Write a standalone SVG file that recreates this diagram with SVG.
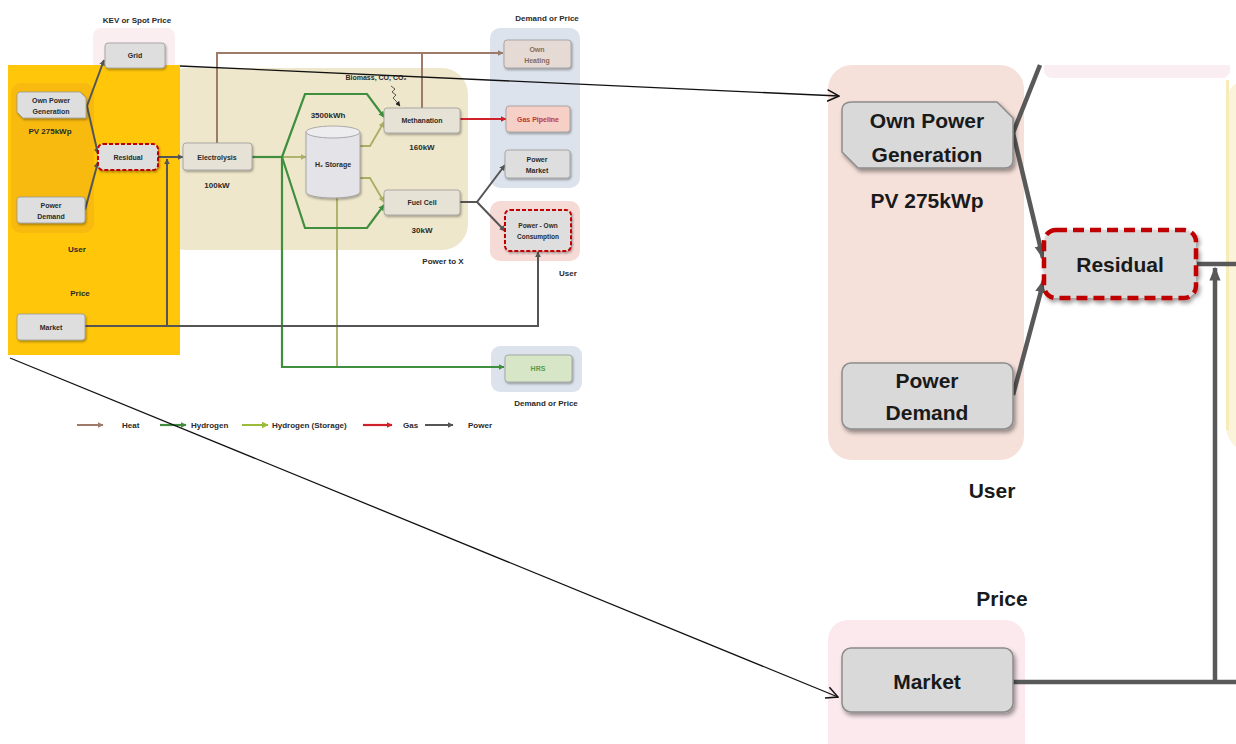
<svg xmlns="http://www.w3.org/2000/svg" width="1236" height="744" viewBox="0 0 1236 744">
<style>
.lbl{font-family:"Liberation Sans",Arial,sans-serif;font-weight:bold;fill:#2a2a2a;text-anchor:middle}
.s{font-size:8px}
.xs{font-size:7px}
.big{font-size:21px;fill:#1a1a1a}
.box{fill:#DEDEDE;stroke:#9A9A9A;stroke-width:0.8}
.boxL{fill:#D9D9D9;stroke:#8C8C8C;stroke-width:1.5}
.pw{fill:none;stroke:#555;stroke-width:2}
.ht{fill:none;stroke:#9C7B6B;stroke-width:2}
.h2{fill:none;stroke:#3F8F3F;stroke-width:2.2}
.st{fill:none;stroke:#A8AE62;stroke-width:1.8}
.gs{fill:none;stroke:#D0202A;stroke-width:2.2}
.pwL{fill:none;stroke:#595959;stroke-width:4.5}
.call{fill:none;stroke:#111;stroke-width:1.3}
</style>
<defs>
<filter id="shS" x="-20%" y="-20%" width="140%" height="150%"><feDropShadow dx="1" dy="1.5" stdDeviation="0.8" flood-color="#000" flood-opacity="0.35"/></filter>
<filter id="shL" x="-10%" y="-10%" width="120%" height="130%"><feDropShadow dx="2" dy="3" stdDeviation="2" flood-color="#000" flood-opacity="0.4"/></filter>
<marker id="aBr" viewBox="0 0 10 10" refX="9" refY="5" markerWidth="6" markerHeight="6" markerUnits="userSpaceOnUse" orient="auto"><path d="M0,0 L10,5 L0,10 z" fill="#9C7B6B"/></marker>
<marker id="aGr" viewBox="0 0 10 10" refX="9" refY="5" markerWidth="6" markerHeight="6" markerUnits="userSpaceOnUse" orient="auto"><path d="M0,0 L10,5 L0,10 z" fill="#3F8F3F"/></marker>
<marker id="aOl" viewBox="0 0 10 10" refX="9" refY="5" markerWidth="6" markerHeight="6" markerUnits="userSpaceOnUse" orient="auto"><path d="M0,0 L10,5 L0,10 z" fill="#A8AE62"/></marker>
<marker id="aLg" viewBox="0 0 10 10" refX="9" refY="5" markerWidth="7" markerHeight="7" markerUnits="userSpaceOnUse" orient="auto"><path d="M0,0 L10,5 L0,10 z" fill="#9BBB3B"/></marker>
<marker id="aRd" viewBox="0 0 10 10" refX="9" refY="5" markerWidth="6" markerHeight="6" markerUnits="userSpaceOnUse" orient="auto"><path d="M0,0 L10,5 L0,10 z" fill="#D0202A"/></marker>
<marker id="aPw" viewBox="0 0 10 10" refX="9" refY="5" markerWidth="6" markerHeight="6" markerUnits="userSpaceOnUse" orient="auto"><path d="M0,0 L10,5 L0,10 z" fill="#555"/></marker>
<marker id="aBk" viewBox="0 0 10 10" refX="9" refY="5" markerWidth="5" markerHeight="5" markerUnits="userSpaceOnUse" orient="auto"><path d="M0,0 L10,5 L0,10 z" fill="#222"/></marker>
<marker id="aPwL" viewBox="0 0 10 10" refX="9" refY="5" markerWidth="14" markerHeight="14" markerUnits="userSpaceOnUse" orient="auto"><path d="M0,1 L10,5 L0,9 z" fill="#595959"/></marker>
<marker id="aOpen" viewBox="0 0 12 12" refX="11" refY="6" markerWidth="14" markerHeight="14" markerUnits="userSpaceOnUse" orient="auto"><path d="M1,1 L11,6 L1,11" fill="none" stroke="#111" stroke-width="1.3"/></marker>
</defs>
<rect width="1236" height="744" fill="#fff"/>

<!-- background panels (small diagram) -->
<g id="panels">
<rect x="93" y="28" width="82" height="48" rx="8" fill="#FAEEF1"/>
<rect x="490" y="28" width="90" height="160" rx="10" fill="#DDE3EC"/>
<rect x="490" y="201" width="90" height="60" rx="10" fill="#F6DAD6"/>
<rect x="491" y="346" width="91" height="46" rx="9" fill="#DDE3EC"/>
<rect x="160" y="68" width="308" height="182" rx="26" fill="#EFE7CB"/>
<rect x="8" y="65" width="172" height="290" fill="#FFC60A"/>
<rect x="11" y="83" width="83" height="150" rx="10" fill="#F8BA0E"/>
</g>

<!-- section labels -->
<g id="labels">
<text class="lbl s" x="137" y="23">KEV or Spot Price</text>
<text class="lbl s" x="547" y="21">Demand or Price</text>
<text class="lbl s" x="50" y="134">PV 275kWp</text>
<text class="lbl s" x="77" y="252">User</text>
<text class="lbl s" x="80" y="296">Price</text>
<text class="lbl s" x="217" y="188">100kW</text>
<text class="lbl s" x="328" y="118">3500kWh</text>
<text class="lbl s" x="422" y="150">160kW</text>
<text class="lbl s" x="422" y="233">30kW</text>
<text class="lbl xs" x="376" y="80">Biomass, CO, CO₂</text>
<text class="lbl s" x="443" y="264">Power to X</text>
<text class="lbl s" x="568" y="276">User</text>
<text class="lbl s" x="546" y="406">Demand or Price</text>
</g>

<!-- connectors (small diagram) -->
<g id="connectors">
<path class="ht" d="M217,143 V53 H503" marker-end="url(#aBr)"/>
<path class="ht" d="M422,108 V53"/>
<path class="gs" d="M460,119 H506" marker-end="url(#aRd)"/>
<path class="st" d="M282,157 H306" marker-end="url(#aOl)"/>
<path class="st" d="M360,146 L370,146 L384,122" marker-end="url(#aOl)"/>
<path class="st" d="M360,178 L370,178 L384,202" marker-end="url(#aOl)"/>
<path class="st" d="M337,197 V367"/>
<path class="h2" d="M252,157 H282"/>
<path class="h2" d="M282,157 L305,94 H367 L384,117" marker-end="url(#aGr)"/>
<path class="h2" d="M282,157 L305,228 H367 L384,205" marker-end="url(#aGr)"/>
<path class="h2" d="M282,157 V367 H504" marker-end="url(#aGr)"/>
<path class="pw" d="M87,106 L104,60" marker-end="url(#aPw)"/>
<path class="pw" d="M87,106 L98,154" marker-end="url(#aPw)"/>
<path class="pw" d="M85,210 L98,162" marker-end="url(#aPw)"/>
<path class="pw" d="M158,157 H183" marker-end="url(#aPw)"/>
<path class="pw" d="M167,326 V159" marker-end="url(#aPw)"/>
<path class="pw" d="M85,326 H538 V252" marker-end="url(#aPw)"/>
<path class="pw" d="M460,202 H477 L505,165" marker-end="url(#aPw)"/>
<path class="pw" d="M477,202 L505,231" marker-end="url(#aPw)"/>
<path d="M391,86 l4,3 l-3,3 l4,3 l-3,3 l3,3 l4,5" fill="none" stroke="#333" stroke-width="0.8" marker-end="url(#aBk)"/>
</g>

<!-- nodes (small diagram) -->
<g id="n-grid"><rect class="box" x="105" y="43" width="60" height="25" rx="3" filter="url(#shS)"/><text class="lbl xs" x="135" y="58">Grid</text></g>
<g id="n-ownpower"><path class="box" d="M20,92 H80 L86,98 V118 H23 L17,112 V95 Q17,92 20,92 Z" filter="url(#shS)"/><text class="lbl xs" x="51" y="103">Own Power</text><text class="lbl xs" x="51" y="114">Generation</text></g>
<g id="n-residual"><rect x="98" y="144" width="60" height="26" rx="5" fill="#DEDEDE" stroke="#C00000" stroke-width="2" stroke-dasharray="4,2" filter="url(#shS)"/><text class="lbl xs" x="128" y="160">Residual</text></g>
<g id="n-demand"><rect class="box" x="17" y="197" width="68" height="26" rx="3" filter="url(#shS)"/><text class="lbl xs" x="51" y="208">Power</text><text class="lbl xs" x="51" y="219">Demand</text></g>
<g id="n-market"><rect class="box" x="17" y="314" width="68" height="26" rx="3" filter="url(#shS)"/><text class="lbl xs" x="51" y="330">Market</text></g>
<g id="n-electrolysis"><rect class="box" x="183" y="143" width="69" height="27" rx="3" style="fill:#E6E3D6" filter="url(#shS)"/><text class="lbl xs" x="217" y="160">Electrolysis</text></g>
<g id="n-storage"><path d="M306,132 V192 A27,6 0 0 0 360,192 V132" fill="#E3E3E8" stroke="#999" stroke-width="0.8" filter="url(#shS)"/><ellipse cx="333" cy="132" rx="27" ry="6" fill="#EDEDF0" stroke="#999" stroke-width="0.8"/><text class="lbl xs" x="333" y="167">H₂ Storage</text></g>
<g id="n-methanation"><rect class="box" x="384" y="108" width="76" height="25" rx="3" style="fill:#E6E3D6" filter="url(#shS)"/><text class="lbl xs" x="422" y="123">Methanation</text></g>
<g id="n-fuelcell"><rect class="box" x="384" y="190" width="76" height="25" rx="3" style="fill:#E6E3D6" filter="url(#shS)"/><text class="lbl xs" x="422" y="205">Fuel Cell</text></g>
<g id="n-heating"><rect class="box" x="504" y="40" width="67" height="28" rx="3" style="fill:#E6DAD4" filter="url(#shS)"/><text class="lbl xs" x="537" y="52" style="fill:#8a6a5a">Own</text><text class="lbl xs" x="537" y="63" style="fill:#8a6a5a">Heating</text></g>
<g id="n-gas"><rect class="box" x="506" y="106" width="64" height="26" rx="3" style="fill:#F6CFC6" filter="url(#shS)"/><text class="lbl xs" x="538" y="122" style="fill:#C0392B">Gas Pipeline</text></g>
<g id="n-powermarket"><rect class="box" x="505" y="150" width="65" height="28" rx="3" filter="url(#shS)"/><text class="lbl xs" x="537" y="162">Power</text><text class="lbl xs" x="537" y="173">Market</text></g>
<g id="n-ownconsumption"><rect x="505" y="210" width="66" height="41" rx="5" fill="#DEDEDE" stroke="#C00000" stroke-width="2" stroke-dasharray="4,2" filter="url(#shS)"/><text class="lbl xs" x="538" y="228" style="font-size:6.5px">Power - Own</text><text class="lbl xs" x="538" y="239" style="font-size:6.5px">Consumption</text></g>
<g id="n-hrs"><rect class="box" x="505" y="355" width="67" height="27" rx="3" style="fill:#D6E6C6" filter="url(#shS)"/><text class="lbl xs" x="538" y="371" style="fill:#5A9A4A">HRS</text></g>

<!-- legend -->
<g id="legend">
<line x1="77" y1="425" x2="103" y2="425" class="ht" marker-end="url(#aBr)"/>
<text class="lbl s" x="122" y="428" style="text-anchor:start">Heat</text>
<line x1="160" y1="425" x2="186" y2="425" class="h2" marker-end="url(#aGr)"/>
<text class="lbl s" x="191" y="428" style="text-anchor:start">Hydrogen</text>
<line x1="242" y1="425" x2="268" y2="425" fill="none" stroke="#9BBB3B" stroke-width="2" marker-end="url(#aLg)"/>
<text class="lbl s" x="272" y="428" style="text-anchor:start">Hydrogen (Storage)</text>
<line x1="363" y1="425" x2="392" y2="425" class="gs" marker-end="url(#aRd)"/>
<text class="lbl s" x="403" y="428" style="text-anchor:start">Gas</text>
<line x1="425" y1="425" x2="453" y2="425" class="pw" marker-end="url(#aPw)"/>
<text class="lbl s" x="468" y="428" style="text-anchor:start">Power</text>
</g>

<!-- enlarged view -->
<g id="zoom-panels">
<rect x="828" y="65" width="196" height="395" rx="24" fill="#F6E0DA"/>
<rect x="1044" y="55" width="186" height="23" rx="8" fill="#FAEEF2"/>
<rect x="1226" y="80" width="40" height="370" rx="24" fill="#FBF4DA"/>
<rect x="1226" y="80" width="3" height="350" fill="#F7EBB8"/>
<rect x="828" y="620" width="197" height="150" rx="20" fill="#FBE9EE"/>
<rect x="1030" y="0" width="206" height="65" fill="#fff"/>
</g>
<g id="zoom-connectors">
<path class="pwL" d="M1040,65 L1013,133"/>
<path class="pwL" d="M1013,133 L1043,258" marker-end="url(#aPwL)"/>
<path class="pwL" d="M1013,395 L1044,280" marker-end="url(#aPwL)"/>
<path class="pwL" d="M1197,264 H1236"/>
<path class="pwL" d="M1215,682 V268" marker-end="url(#aPwL)"/>
<path class="pwL" d="M1012,682 H1236"/>
</g>
<g id="z-ownpower"><path class="boxL" d="M852,102 H997 L1013,118 V160 Q1013,168 1005,168 H858 L842,152 V110 Q842,102 852,102 Z" filter="url(#shL)"/><text class="lbl big" x="927" y="128">Own Power</text><text class="lbl big" x="927" y="162">Generation</text></g>
<text class="lbl big" x="927" y="208">PV 275kWp</text>
<g id="z-residual"><rect x="1044" y="230" width="152" height="68" rx="12" fill="#D9D9D9" stroke="#C00000" stroke-width="4.5" stroke-dasharray="11,6" filter="url(#shL)"/><text class="lbl big" x="1120" y="272">Residual</text></g>
<g id="z-demand"><rect class="boxL" x="842" y="363" width="171" height="66" rx="9" filter="url(#shL)"/><text class="lbl big" x="927" y="388">Power</text><text class="lbl big" x="927" y="420">Demand</text></g>
<text class="lbl big" x="992" y="498">User</text>
<text class="lbl big" x="1002" y="606">Price</text>
<g id="z-market"><rect class="boxL" x="842" y="648" width="171" height="64" rx="9" filter="url(#shL)"/><text class="lbl big" x="927" y="689">Market</text></g>

<!-- callout lines -->
<g id="callouts">
<path class="call" d="M180,66 L839,96" marker-end="url(#aOpen)"/>
<path class="call" d="M10,358 L838,697" marker-end="url(#aOpen)"/>
</g>
</svg>
